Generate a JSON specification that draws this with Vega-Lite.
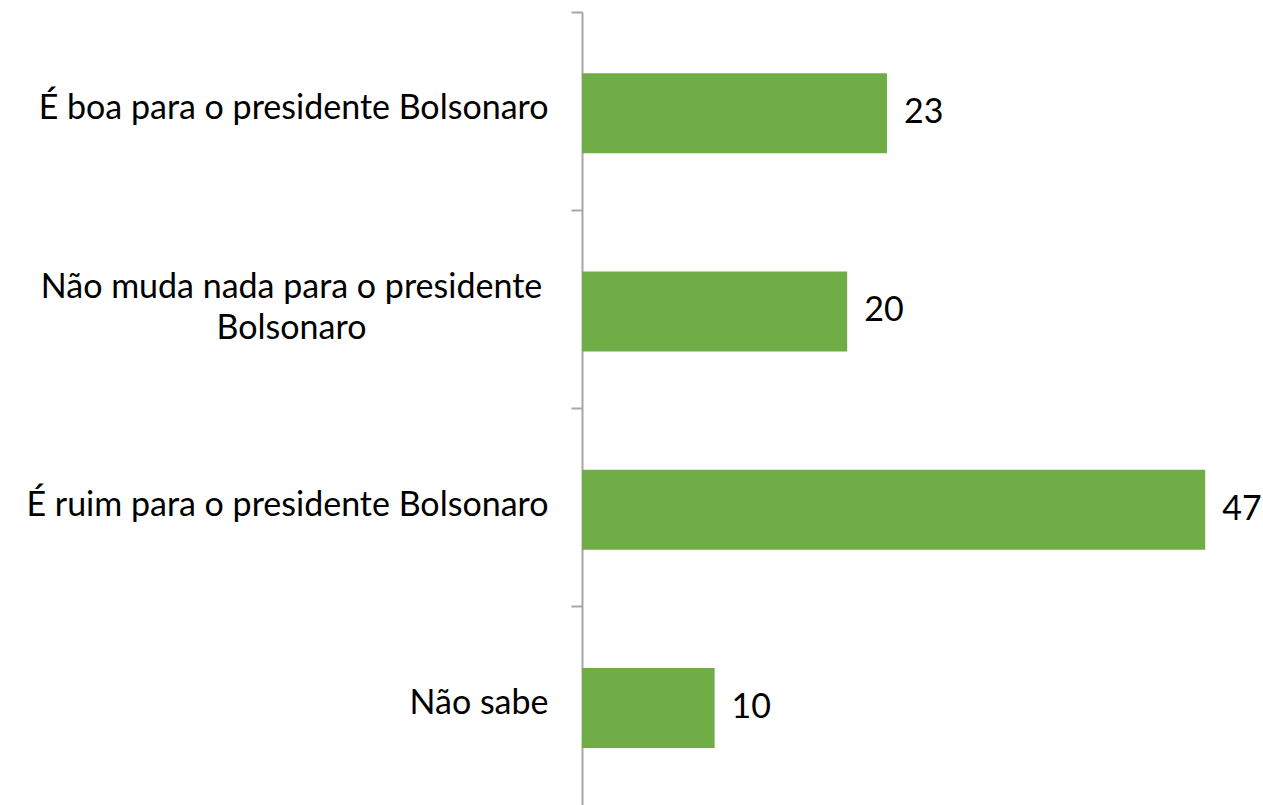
{
  "$schema": "https://vega.github.io/schema/vega-lite/v6.json",
  "autosize": "none",
  "width": 663,
  "height": 793,
  "padding": {"left": 582, "top": 12, "right": 18, "bottom": 0},
  "background": "white",
  "data": {"values": [
    {"cat": "É boa para o presidente Bolsonaro", "v": 23},
    {"cat": "Não muda nada para o presidente Bolsonaro", "v": 20},
    {"cat": "É ruim para o presidente Bolsonaro", "v": 47},
    {"cat": "Não sabe", "v": 10}
  ]},
  "config": {"view": {"stroke": null}},
  "encoding": {
    "y": {
      "field": "cat", "type": "nominal", "sort": null,
      "scale": {"paddingInner": 0, "paddingOuter": 0},
      "axis": {
        "title": null,
        "domainColor": "#A6A6A6", "domainWidth": 2,
        "tickColor": "#A6A6A6", "tickWidth": 2, "tickSize": 11,
        "bandPosition": 0,
        "labelFont": "Lato", "labelFontSize": 34, "labelColor": "#000000",
        "labelLimit": 600,
        "labelPadding": {"condition": {"test": "indexof(datum.value, 'muda') >= 0", "value": 280}, "value": 23},
        "labelAlign": {"condition": {"test": "indexof(datum.value, 'muda') >= 0", "value": "center"}, "value": "right"},
        "labelOffset": {"condition": {"test": "indexof(datum.value, 'muda') >= 0", "value": -21}, "value": -2},
        "labelExpr": "indexof(datum.value, 'muda') >= 0 ? ['Não muda nada para o presidente', 'Bolsonaro'] : datum.value",
        "labelLineHeight": 41
      }
    },
    "x": {
      "field": "v", "type": "quantitative",
      "scale": {"domain": [0, 50]},
      "axis": null
    }
  },
  "layer": [
    {"mark": {"type": "bar", "color": "#70AD47", "size": 80, "yOffset": 2}},
    {"mark": {"type": "text", "align": "left", "dx": 17, "dy": 2, "font": "Lato", "fontSize": 34, "color": "#000000"},
     "encoding": {"text": {"field": "v", "type": "quantitative"}}}
  ]
}
